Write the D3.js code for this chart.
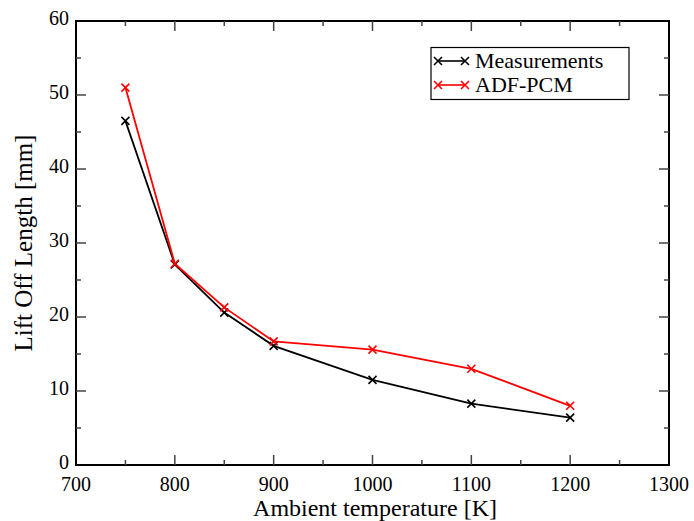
<!DOCTYPE html>
<html><head><meta charset="utf-8">
<script src="https://cdn.jsdelivr.net/npm/d3@7"></script>
<style>body{margin:0;background:#fff}</style>
</head><body><svg id="c" width="694" height="521"></svg>
<script>
const temps = [750, 800, 850, 900, 1000, 1100, 1200];
const measurements = [46.5, 27.1, 20.6, 16.1, 11.5, 8.3, 6.4];
const adfpcm = [51.0, 27.2, 21.3, 16.7, 15.6, 13.0, 8.0];
const seriesNames = ["Measurements", "ADF-PCM"];
const seriesColors = ["#000000", "#ff0000"];
const xTicks = [700, 800, 900, 1000, 1100, 1200, 1300];
const yTicks = [0, 10, 20, 30, 40, 50, 60];

function pickFont(cands) {
  const ctx = document.createElement("canvas").getContext("2d");
  const s = "Ambient temperature [K] Measurements 0123456789";
  for (const f of cands) {
    let differs = false;
    for (const base of ["monospace", "sans-serif"]) {
      ctx.font = `40px ${base}`; const w0 = ctx.measureText(s).width;
      ctx.font = `40px '${f}', ${base}`; const w1 = ctx.measureText(s).width;
      if (Math.abs(w0 - w1) > 0.5) differs = true; else { differs = false; break; }
    }
    if (differs) return `'${f}'`;
  }
  return "serif";
}
const FF = pickFont(["Liberation Serif", "Times New Roman", "Tinos", "Nimbus Roman", "FreeSerif", "DejaVu Serif", "Noto Serif"]) + ", serif";

const svg = d3.select("#c").attr("font-family", FF).style("font-family", FF);
const L = 76, R = 669, T = 21, B = 465;
const x = d3.scaleLinear().domain([700, 1300]).range([L, R]);
const y = d3.scaleLinear().domain([0, 60]).range([B, T]);

svg.append("rect").attr("x", L).attr("y", T).attr("width", R - L).attr("height", B - T)
  .attr("fill", "none").attr("stroke", "#000").attr("stroke-width", 2);

const tickCol = "#444";
const xMinor = d3.range(750, 1300, 100);
const yMinor = d3.range(5, 60, 10);
function vt(v, len, isTop) {
  const px = x(v);
  svg.append("line").attr("x1", px).attr("x2", px)
    .attr("y1", isTop ? T : B).attr("y2", isTop ? T + len : B - len)
    .attr("stroke", tickCol).attr("stroke-width", 1.5);
}
function ht(v, len, isRight) {
  const py = y(v);
  svg.append("line").attr("y1", py).attr("y2", py)
    .attr("x1", isRight ? R : L).attr("x2", isRight ? R - len : L + len)
    .attr("stroke", tickCol).attr("stroke-width", 1.5);
}
xTicks.slice(1, -1).forEach(v => { vt(v, 10, false); vt(v, 10, true); });
xMinor.forEach(v => { vt(v, 5, false); vt(v, 5, true); });
yTicks.slice(1, -1).forEach(v => { ht(v, 10, false); ht(v, 10, true); });
yMinor.forEach(v => { ht(v, 5, false); ht(v, 5, true); });

const txt = sel => sel.attr("font-family", FF).style("font-family", FF).attr("fill", "#000");

txt(svg.selectAll(".xl").data(xTicks).enter().append("text"))
  .attr("x", d => x(d)).attr("y", 490.5).attr("text-anchor", "middle")
  .attr("font-size", 20).text(d => d);
txt(svg.selectAll(".yl").data(yTicks).enter().append("text"))
  .attr("x", 69).attr("y", d => y(d) + 3.5).attr("text-anchor", "end")
  .attr("font-size", 20).text(d => d);

txt(svg.append("text")).attr("x", 375).attr("y", 515.5).attr("text-anchor", "middle")
  .attr("font-size", 24).text("Ambient temperature [K]");
txt(svg.append("text")).attr("transform", `translate(32,${(T + B) / 2}) rotate(-90)`)
  .attr("text-anchor", "middle").attr("font-size", 25).text("Lift Off Length [mm]");

const allSeries = [measurements, adfpcm];
const line = d3.line().x((d, i) => x(temps[i])).y(d => y(d));
function cross(g, cx, cy, col) {
  const s = 4;
  g.append("path").attr("d", `M${cx - s},${cy - s}L${cx + s},${cy + s}M${cx - s},${cy + s}L${cx + s},${cy - s}`)
    .attr("stroke", col).attr("stroke-width", 1.6).attr("fill", "none");
}
allSeries.forEach((vals, k) => {
  const g = svg.append("g");
  g.append("path").datum(vals).attr("d", line).attr("fill", "none")
    .attr("stroke", seriesColors[k]).attr("stroke-width", 1.8);
  vals.forEach((v, i) => cross(g, x(temps[i]), y(v), seriesColors[k]));
});

svg.append("rect").attr("x", 431).attr("y", 47.5).attr("width", 198).attr("height", 52)
  .attr("fill", "#fff").attr("stroke", "#000").attr("stroke-width", 1.2);
seriesNames.forEach((n, k) => {
  const ly = 61 + k * 24;
  const g = svg.append("g");
  g.append("line").attr("x1", 438).attr("x2", 465).attr("y1", ly).attr("y2", ly)
    .attr("stroke", seriesColors[k]).attr("stroke-width", 1.6);
  cross(g, 438, ly, seriesColors[k]);
  cross(g, 465, ly, seriesColors[k]);
  txt(svg.append("text")).attr("x", 475).attr("y", ly + 7).attr("font-size", 22).text(n);
});
</script></body></html>
